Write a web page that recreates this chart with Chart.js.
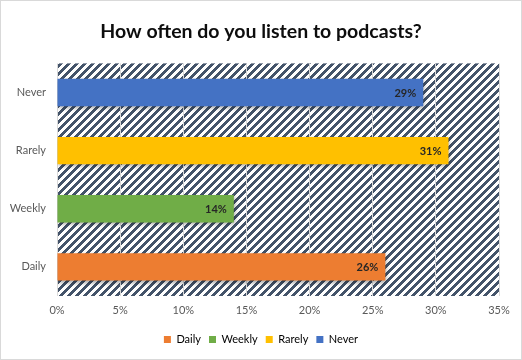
<!DOCTYPE html>
<html>
<head>
<meta charset="utf-8">
<script src="https://cdn.jsdelivr.net/npm/chart.js@4"></script>
<style>
    body { margin: 0; background: #fff; }
    #wrap { width: 520px; height: 358px; border: 1px solid #d9d9d9; }
</style>
</head>
<body>
<div id="wrap"><canvas id="podcastChart" width="520" height="358"></canvas></div>
<script>
// data
const categories = ['Daily', 'Weekly', 'Rarely', 'Never'];
const shares = [26, 14, 31, 29];
const xTicks = [0, 5, 10, 15, 20, 25, 30, 35];

const barColors = ['#ED7D31', '#70AD47', '#FFC000', '#4472C4'];
const fontFamily = 'Lato, "Noto Sans", sans-serif';

// Excel-like "wide upward diagonal" fill for the plot area
function makeHatch() {
    const c = document.createElement('canvas');
    c.width = 8;
    c.height = 8;
    const g = c.getContext('2d');
    g.fillStyle = '#ffffff';
    g.fillRect(0, 0, 8, 8);
    g.fillStyle = '#44546A';
    for (let y = 0; y < 8; y++) {
        for (let x = 0; x < 8; x++) {
            if ((x + y) % 8 < 4) g.fillRect(x, y, 1, 1);
        }
    }
    return c;
}

const hatchBackground = {
    id: 'hatchBackground',
    beforeDraw(chart) {
        const { ctx, chartArea: a } = chart;
        ctx.save();
        ctx.fillStyle = ctx.createPattern(makeHatch(), 'repeat');
        ctx.fillRect(a.left, a.top, a.right - a.left, a.bottom - a.top);
        ctx.restore();
    }
};

const barShadow = {
    id: 'barShadow',
    beforeDatasetDraw(chart) {
        const ctx = chart.ctx;
        ctx.save();
        ctx.shadowColor = 'rgba(0,0,0,0.35)';
        ctx.shadowBlur = 4;
        ctx.shadowOffsetX = 1;
        ctx.shadowOffsetY = 2;
    },
    afterDatasetDraw(chart) {
        chart.ctx.restore();
    }
};

const valueLabels = {
    id: 'valueLabels',
    afterDatasetsDraw(chart) {
        const ctx = chart.ctx;
        const meta = chart.getDatasetMeta(0);
        ctx.save();
        ctx.font = 'bold 11px ' + fontFamily;
        ctx.fillStyle = '#262626';
        ctx.textAlign = 'right';
        ctx.textBaseline = 'middle';
        meta.data.forEach((bar, i) => {
            ctx.fillText(shares[i] + '%', bar.x - 7, bar.y + 1);
        });
        ctx.restore();
    }
};

const ctx = document.getElementById('podcastChart').getContext('2d');
new Chart(ctx, {
    type: 'bar',
    data: {
        labels: categories,
        datasets: [{
            label: 'Share',
            data: shares,
            backgroundColor: barColors,
            borderWidth: 0,
            barPercentage: 0.47,
            categoryPercentage: 1
        }]
    },
    options: {
        indexAxis: 'y',
        responsive: false,
        animation: false,
        layout: { padding: { left: 0, right: 0, top: 0, bottom: 4 } },
        plugins: {
            title: {
                display: true,
                text: 'How often do you listen to podcasts?',
                color: '#0d0d0d',
                font: { family: fontFamily, size: 19.5, weight: 'bold' },
                padding: { top: 19, bottom: 20 }
            },
            legend: {
                position: 'bottom',
                labels: {
                    boxWidth: 7,
                    boxHeight: 7,
                    padding: 8,
                    color: '#595959',
                    font: { family: fontFamily, size: 11 },
                    generateLabels: () => categories.map((name, i) => ({
                        text: name,
                        fillStyle: barColors[i],
                        strokeStyle: barColors[i],
                        lineWidth: 0,
                        index: i
                    }))
                }
            },
            tooltip: { enabled: false }
        },
        scales: {
            x: {
                min: 0,
                max: 35,
                afterBuildTicks: scale => {
                    scale.ticks = xTicks.map(v => ({ value: v }));
                },
                afterFit: scale => { scale.height = 30; },
                grid: { color: '#d9d9d9', drawTicks: false },
                border: { display: false },
                ticks: {
                    padding: 8,
                    color: '#595959',
                    font: { family: fontFamily, size: 11 },
                    callback: v => v + '%'
                }
            },
            y: {
                reverse: true,
                afterFit: scale => { scale.width = 56; },
                grid: { display: false, drawTicks: false },
                border: { display: false },
                ticks: {
                    padding: 11,
                    color: '#595959',
                    font: { family: fontFamily, size: 11 }
                }
            },
            // empty right-hand strip so the legend stays centred on the canvas
            yRight: {
                position: 'right',
                afterFit: scale => { scale.width = 22; },
                grid: { display: false, drawTicks: false },
                border: { display: false },
                ticks: { display: false }
            }
        }
    },
    plugins: [hatchBackground, barShadow, valueLabels]
});
</script>
</body>
</html>
